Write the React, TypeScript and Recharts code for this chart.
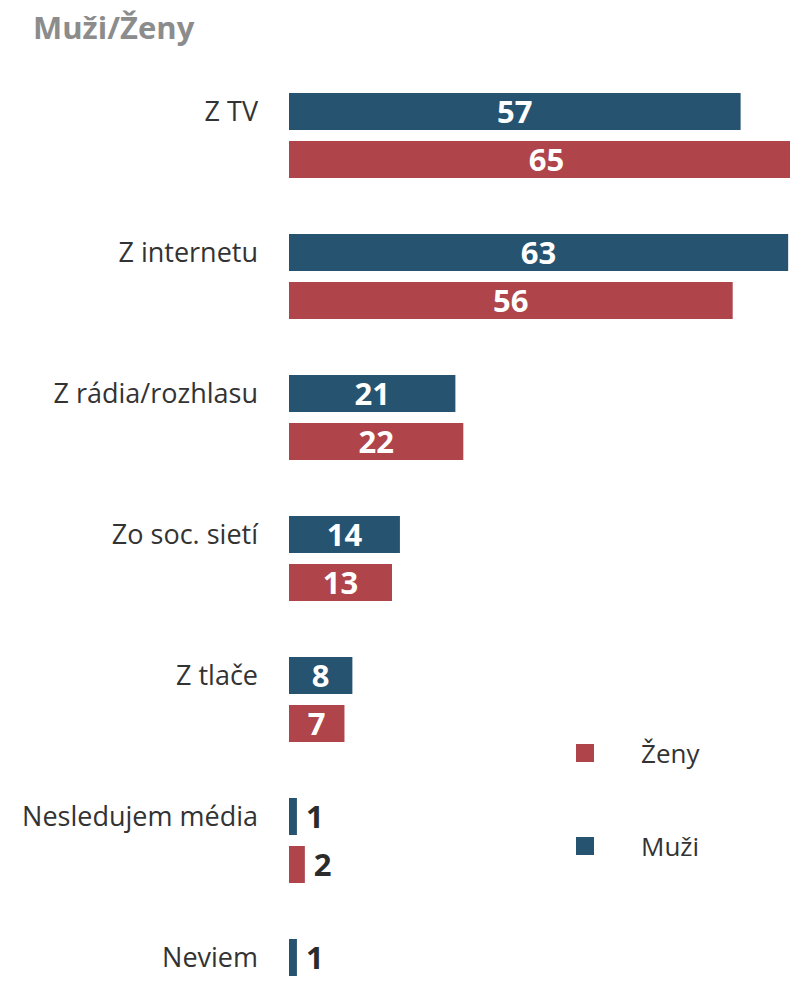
import React from 'react';
import { BarChart, Bar, XAxis, YAxis, LabelList } from 'recharts';

const categories = ['Z TV', 'Z internetu', 'Z rádia/rozhlasu', 'Zo soc. sietí', 'Z tlače', 'Nesledujem média', 'Neviem'];
const muzi = [57, 63, 21, 14, 8, 1, 1];
const zeny: (number | null)[] = [65, 56, 22, 13, 7, 2, null];

const data = categories.map((c, i) => ({ name: c, muzi: muzi[i], zeny: zeny[i] }));

const BLUE = '#255370';
const RED = '#af444a';
const FONT = '"Open Sans", sans-serif';

const renderLabel = (props: any) => {
  const { x, y, width, height, value } = props;
  if (value === null || value === undefined) return null;
  const cy = Number(y) + Number(height) / 2;
  if (value < 5) {
    return (
      <text x={Number(x) + Number(width) + 9} y={cy} dy="0.36em" textAnchor="start" fill="#2b2b2b"
        fontFamily={FONT} fontWeight={700} fontSize={31}>{value}</text>
    );
  }
  return (
    <text x={Number(x) + Number(width) / 2} y={cy} dy="0.36em" textAnchor="middle" fill="#ffffff"
      fontFamily={FONT} fontWeight={700} fontSize={31}>{value}</text>
  );
};

const CatTick = (props: any) => {
  const { y, payload } = props;
  return (
    <text x={258} y={Number(y) - 24} dy="0.36em" textAnchor="end" fill="#333333" fontFamily={FONT} fontSize={27}>
      {payload.value}
    </text>
  );
};

const legendItems = [
  { label: 'Ženy', color: RED },
  { label: 'Muži', color: BLUE },
];

export default function App() {
  return (
    <div style={{ position: 'absolute', left: 0, top: 0, width: 790, height: 989, overflow: 'hidden', background: '#fff' }}>
      <div style={{ position: 'absolute', left: 33, top: 5, fontFamily: FONT, fontWeight: 700, fontSize: 31, color: '#8c8c8c', lineHeight: '44px' }}>
        Muži/Ženy
      </div>
      <BarChart
        width={804}
        height={1052}
        data={data}
        layout="vertical"
        margin={{ top: 65, right: 0, bottom: 0, left: 0 }}
        barGap={11}
        barCategoryGap={56}
      >
        <XAxis type="number" domain={[0, 65]} hide />
        <YAxis type="category" dataKey="name" width={289} axisLine={false} tickLine={false} tick={<CatTick />} interval={0} />
        <Bar dataKey="muzi" name="Muži" fill={BLUE} barSize={37} isAnimationActive={false}>
          <LabelList dataKey="muzi" content={renderLabel} />
        </Bar>
        <Bar dataKey="zeny" name="Ženy" fill={RED} barSize={37} isAnimationActive={false}>
          <LabelList dataKey="zeny" content={renderLabel} />
        </Bar>
      </BarChart>
      <div style={{ position: 'absolute', left: 576, top: 744, fontFamily: FONT }}>
        {legendItems.map((it, i) => (
          <div key={it.label} style={{ position: 'absolute', left: 0, top: i * 93, width: 200, height: 18 }}>
            <div style={{ position: 'absolute', left: 0, top: 0, width: 18, height: 18, background: it.color }} />
            <div style={{ position: 'absolute', left: 65, top: -9, fontSize: 26, color: '#333', lineHeight: '36px', whiteSpace: 'nowrap' }}>{it.label}</div>
          </div>
        ))}
      </div>
    </div>
  );
}
